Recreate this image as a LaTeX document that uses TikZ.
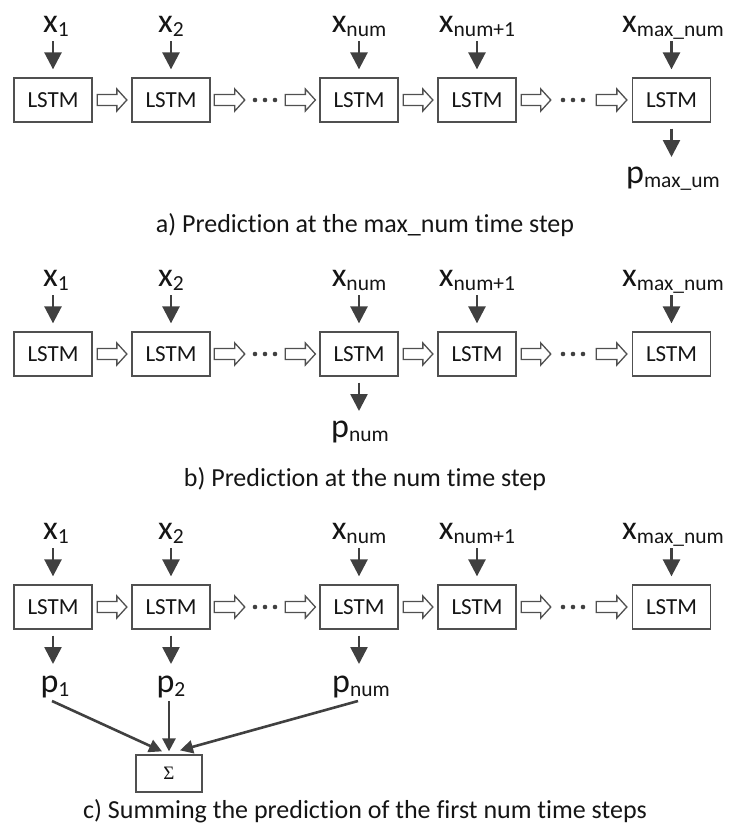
\documentclass[tikz,border=0pt]{standalone}
\usepackage{fontspec}
\setmainfont{Carlito}[Ligatures=NoCommon]
\newfontfamily\sigfont{Liberation Serif}
\usetikzlibrary{arrows.meta,calc}
\definecolor{ag}{HTML}{404040}
\definecolor{bg}{HTML}{505050}
\definecolor{tx}{HTML}{151515}
\newcommand\lbl[2]{{\fontsize{34}{34}\selectfont #1}{\fontsize{21.5}{21.5}\selectfont\raisebox{-4.5pt}{#2}}}
\newcommand\harr[2]{%
  \coordinate (hs) at #1; \coordinate (he) at #2;
  \draw[holl] ($(hs)+(0,-5.5)$) -- ($(he)+(-10,-5.5)$) -- ($(he)+(-10,-11)$) -- (he)
    -- ($(he)+(-10,11)$) -- ($(he)+(-10,5.5)$) -- ($(hs)+(0,5.5)$) -- cycle;}
\newcommand\chain[2]{%
  \node[lstm] (#1b1) at (53,{100+#2}) {LSTM};
  \node[lstm] (#1b2) at (171,{100+#2}) {LSTM};
  \node[lstm] (#1b3) at (359,{100+#2}) {LSTM};
  \node[lstm] (#1b4) at (477,{100+#2}) {LSTM};
  \node[lstm] (#1b5) at (671.5,{100+#2}) {LSTM};
  \node[dotn] (#1d1) at (265,{100+#2}) {};
  \node[dotn] (#1d2) at (573,{100+#2}) {};
  \foreach \s in {-10,0,10}{\fill[ag] ($(#1d1)+(\s,0)$) circle (2.3); \fill[ag] ($(#1d2)+(\s,0)$) circle (2.3);}
  \harr{($(#1b1.east)+(4.5,0)$)}{($(#1b2.west)+(-4.5,0)$)}
  \harr{($(#1b2.east)+(3.5,0)$)}{($(#1d1.west)+(-10,0)$)}
  \harr{($(#1d1.east)+(10,0)$)}{($(#1b3.west)+(-4,0)$)}
  \harr{($(#1b3.east)+(4.5,0)$)}{($(#1b4.west)+(-4.5,0)$)}
  \harr{($(#1b4.east)+(4.5,0)$)}{($(#1d2.west)+(-12,0)$)}
  \harr{($(#1d2.east)+(13,0)$)}{($(#1b5.west)+(-5,0)$)}
  \node[lab] (#1x1) at (56,{32+#2}) {\lbl{x}{1}};
  \node[lab] (#1x2) at (171,{32+#2}) {\lbl{x}{2}};
  \node[lab] (#1x3) at (359,{32+#2}) {\lbl{x}{num}};
  \node[lab] (#1x4) at (477,{32+#2}) {\lbl{x}{num+1}};
  \node[lab] (#1x5) at (673,{32+#2}) {\lbl{x}{max\_num}};
  \foreach \i in {1,...,5}{\draw[inarr,shorten <=9pt,shorten >=8pt] (#1x\i -| #1b\i) -- (#1b\i.north);}
}
\begin{document}
\begin{tikzpicture}[x=1pt,y=-1pt,
  lstm/.style={draw=bg,line width=1.3pt,fill=white,minimum width=78pt,minimum height=44pt,inner sep=0pt,text=tx,font=\fontsize{23}{23}\selectfont},
  sbox/.style={draw=bg,line width=1.3pt,minimum width=66pt,minimum height=37pt,inner sep=0pt,text=tx,font=\sigfont\fontsize{19}{19}\selectfont},
  lab/.style={anchor=base,inner sep=0pt,text height=0pt,text depth=0pt,text=tx},
  captxt/.style={anchor=base,inner sep=0pt,text=tx,font=\fontsize{26}{26}\selectfont},
  dotn/.style={inner sep=0pt,minimum width=20pt,minimum height=5pt},
  holl/.style={draw=bg,line width=1.3pt,fill=white,line join=miter},
  inarr/.style={draw=ag,line width=2.6pt,-{Triangle[length=17pt,width=17pt]}},
  sarr/.style={draw=ag,line width=2.6pt,-{Triangle[length=13pt,width=13pt]}}]
\useasboundingbox (0,0) rectangle (731,838);
% row a
\chain{a}{0}
\node[lab] (apm) at (673,183) {\lbl{p}{max\_um}};
\draw[inarr,shorten <=6pt,shorten >=26pt] (ab5.south) -- (apm -| ab5);
\node[captxt] (capa) at (365,232) {a) Prediction at the max\_num time step};
% row b
\chain{b}{254}
\node[lab] (bpn) at (360,437) {\lbl{p}{num}};
\draw[inarr,shorten <=6pt,shorten >=26pt] (bb3.south) -- (bpn -| bb3);
\node[captxt] (capb) at (365,486) {b) Prediction at the num time step};
% row c
\chain{c}{507}
\node[lab] (cp1) at (55,692) {\lbl{p}{1}};
\node[lab] (cp2) at (171,692) {\lbl{p}{2}};
\node[lab] (cp3) at (361,692) {\lbl{p}{num}};
\draw[inarr,shorten <=6pt,shorten >=28pt] (cb1.south) -- (cp1 -| cb1);
\draw[inarr,shorten <=6pt,shorten >=28pt] (cb2.south) -- (cp2 -| cb2);
\draw[inarr,shorten <=6pt,shorten >=28pt] (cb3.south) -- (cp3 -| cb3);
\node[sbox] (sig) at (169,773.5) {Σ};
\coordinate (t1) at ($(sig.north)+(-7,-3)$);
\coordinate (t2) at ($(sig.north)+(0,-3)$);
\coordinate (t3) at ($(sig.north)+(11,-4)$);
\draw[sarr] ($(cp1)+(-3,9)$) -- (t1);
\draw[sarr] ($(cp2 -| sig)+(0,9)$) -- (t2);
\draw[sarr] ($(cp3)+(-3,9)$) -- (t3);
\node[captxt] (capc) at (365,818) {c) Summing the prediction of the first num time steps};
\end{tikzpicture}
\end{document}
